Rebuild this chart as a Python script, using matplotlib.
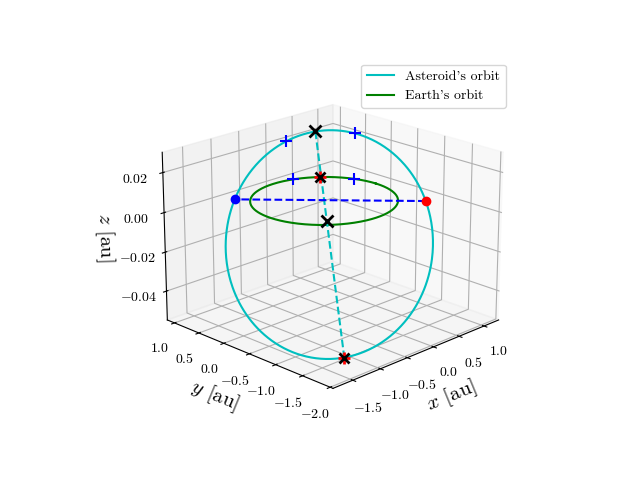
import numpy as np
import matplotlib
matplotlib.use("Agg")
import matplotlib.pyplot as plt

plt.rcParams.update({"font.family": "serif", "font.serif": ["cmr10"],
                     "mathtext.fontset": "cm", "axes.formatter.use_mathtext": True})

# orbital elements of the asteroid
a_ast = 1.48
e_ast = 0.36
inc_deg = 1.5
Omega_deg = -47.0
omega_deg = 100.0
# Earth
a_earth = 1.0
earth_mark_deg = 49.0
mid_mark_frac = 0.14   # fraction of the way from Sun to aphelion

x_ticks = [-1.5, -1.0, -0.5, 0.0, 0.5, 1.0]
y_ticks = [-2.0, -1.5, -1.0, -0.5, 0.0, 0.5, 1.0]
z_ticks = [-0.04, -0.02, 0.00, 0.02]
# true anomalies of blue '+' markers on asteroid orbit, Earth angles
ast_plus_nu = [-33.0, 25.0]
earth_plus_deg = [21.0, 71.0]

def rot(nu):
    i = np.radians(inc_deg); O = np.radians(Omega_deg); w = np.radians(omega_deg)
    r = a_ast * (1 - e_ast**2) / (1 + e_ast * np.cos(nu))
    u = nu + w
    x = r * (np.cos(O) * np.cos(u) - np.sin(O) * np.sin(u) * np.cos(i))
    y = r * (np.sin(O) * np.cos(u) + np.cos(O) * np.sin(u) * np.cos(i))
    z = r * np.sin(u) * np.sin(i)
    return x, y, z

fig = plt.figure(figsize=(6.4, 4.8), dpi=100)
ax = fig.add_subplot(projection="3d")
nu = np.linspace(0, 2 * np.pi, 400)
ax.plot(*rot(nu), color="c", label="Asteroid's orbit")
th = np.linspace(0, 2 * np.pi, 400)
ax.plot(a_earth * np.cos(th), a_earth * np.sin(th), 0 * th, color="g", label="Earth's orbit")

peri = rot(0.0); apo = rot(np.pi)
ax.plot([peri[0], apo[0]], [peri[1], apo[1]], [peri[2], apo[2]], "c--")
asc = rot(-np.radians(omega_deg)); desc = rot(np.pi - np.radians(omega_deg))
ax.plot([asc[0], desc[0]], [asc[1], desc[1]], [0, 0], "b--")
ax.plot([asc[0]], [asc[1]], [0], "o", color="r")
ax.plot([desc[0]], [desc[1]], [0], "o", color="b")
ax.plot([apo[0]], [apo[1]], [apo[2]], "+", color="r", ms=9, mew=2)
ax.plot([apo[0]], [apo[1]], [apo[2]], "x", color="k", ms=7, mew=2)
ax.plot([peri[0]], [peri[1]], [peri[2]], "x", color="k", ms=8, mew=2)
cen = [mid_mark_frac * apo[k] for k in range(3)]
ax.plot([cen[0]], [cen[1]], [cen[2]], "x", color="k", ms=8, mew=2)
d = np.radians(earth_mark_deg)
ax.plot([np.cos(d)], [np.sin(d)], [0], "+", color="r", ms=9, mew=2)
ax.plot([np.cos(d)], [np.sin(d)], [0], "x", color="k", ms=7, mew=2)
for n in ast_plus_nu:
    p = rot(np.radians(n))
    ax.plot([p[0]], [p[1]], [p[2]], "+", color="b", ms=8, mew=1.5)
for g in earth_plus_deg:
    ax.plot([np.cos(np.radians(g))], [np.sin(np.radians(g))], [0], "+", color="b", ms=8, mew=1.5)

ax.set_xlim(-1.85, 1.3); ax.set_ylim(-2.05, 1.15); ax.set_zlim(-0.055, 0.03)
ax.set_xticks(x_ticks); ax.set_yticks(y_ticks); ax.set_zticks(z_ticks)
ax.set_xlabel(r"$x$ [au]", fontsize=15)
ax.set_ylabel(r"$y$ [au]", fontsize=15)
ax.set_zlabel(r"$z$ [au]", fontsize=15)
ax.view_init(elev=20, azim=-135)
ax.legend(loc="upper right")
fig.savefig("out.png")
